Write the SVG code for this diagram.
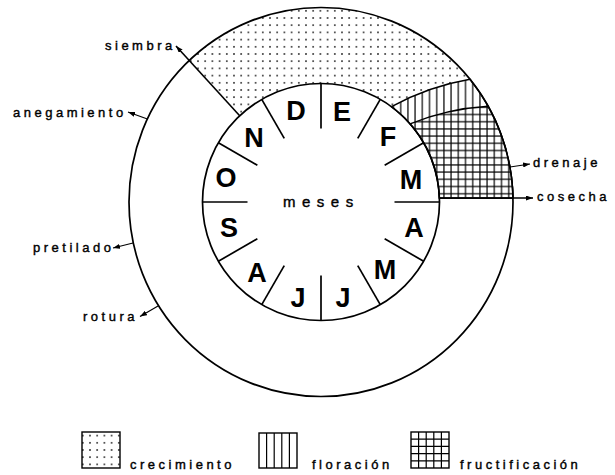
<svg xmlns="http://www.w3.org/2000/svg" width="615" height="475" viewBox="0 0 615 475">
<style>
.ln{fill:none;stroke:#000;stroke-width:1.7}
.hl{stroke:#000;stroke-width:1.4}
.lbl{font-family:"Liberation Sans",Arial,sans-serif;font-size:13px;letter-spacing:3.5px;fill:#000;stroke:#000;stroke-width:0.4}
.mo{font-family:"Liberation Sans",Arial,sans-serif;font-weight:bold;font-size:27px;text-anchor:middle;fill:#000}
.ar{fill:none;stroke:#000;stroke-width:1.2;marker-end:url(#ah)}
</style>
<defs>
<marker id="ah" markerUnits="userSpaceOnUse" markerWidth="7" markerHeight="5" refX="7" refY="2.5" orient="auto"><path d="M0,0 L7,2.5 L0,5 Z" fill="#000"/></marker>
<pattern id="dots" patternUnits="userSpaceOnUse" width="7.2" height="7.2" x="0" y="0"><rect width="7.2" height="7.2" fill="#fff"/><circle cx="3.6" cy="3.6" r="0.8" fill="#000"/></pattern>
<pattern id="vl" patternUnits="userSpaceOnUse" width="7.2" height="10" x="397.1" y="0"><rect width="7.2" height="10" fill="#fff"/><line x1="3.6" y1="0" x2="3.6" y2="10" stroke="#000" stroke-width="1.2"/></pattern>
<pattern id="grid" patternUnits="userSpaceOnUse" width="7.2" height="7.2" x="397.1" y="118.1"><rect width="7.2" height="7.2" fill="#fff"/><line x1="3.6" y1="0" x2="3.6" y2="7.2" stroke="#000" stroke-width="1.2"/><line x1="0" y1="3.6" x2="7.2" y2="3.6" stroke="#000" stroke-width="1.2"/></pattern>
</defs>
<rect width="615" height="475" fill="#fff"/>

<g id="crecimiento-band">
<path d="M239.7 115.8 L189.3 60.4 A192 194.5 0 0 1 470 79.3 A250 250 0 0 0 391.5 106.7 A118.5 118.5 0 0 0 239.7 115.8 Z" fill="url(#dots)"/>
</g>
<g id="floracion-band">
<path d="M391.5 106.7 A250 250 0 0 1 470 79.3 A192 194.5 0 0 1 513 198 L439.4 198 A118.5 118.5 0 0 0 391.5 106.7 Z" fill="url(#vl)" class="hl"/>
</g>
<g id="fructificacion-band">
<path d="M410 123.8 A250 250 0 0 1 488.1 106.2 A192 194.5 0 0 1 513 198 L439.4 198 A118.5 118.5 0 0 0 410 123.8 Z" fill="url(#grid)" class="hl"/>
</g>

<g id="outer-ring">
<ellipse cx="321" cy="202" rx="192" ry="194.5" class="ln"/>
</g>
<g id="meses-wheel">
<circle cx="321" cy="202" r="118.5" class="ln"/>
<g class="ln">
<line x1="321" y1="83.5" x2="321" y2="128.5"/>
<line x1="321" y1="83.5" x2="321" y2="128.5" transform="rotate(30 321 202)"/>
<line x1="321" y1="83.5" x2="321" y2="128.5" transform="rotate(60 321 202)"/>
<line x1="321" y1="83.5" x2="321" y2="128.5" transform="rotate(90 321 202)"/>
<line x1="321" y1="83.5" x2="321" y2="128.5" transform="rotate(120 321 202)"/>
<line x1="321" y1="83.5" x2="321" y2="128.5" transform="rotate(150 321 202)"/>
<line x1="321" y1="83.5" x2="321" y2="128.5" transform="rotate(180 321 202)"/>
<line x1="321" y1="83.5" x2="321" y2="128.5" transform="rotate(210 321 202)"/>
<line x1="321" y1="83.5" x2="321" y2="128.5" transform="rotate(240 321 202)"/>
<line x1="321" y1="83.5" x2="321" y2="128.5" transform="rotate(270 321 202)"/>
<line x1="321" y1="83.5" x2="321" y2="128.5" transform="rotate(300 321 202)"/>
<line x1="321" y1="83.5" x2="321" y2="128.5" transform="rotate(330 321 202)"/>
</g>
<text class="mo" x="296" y="120">D</text>
<text class="mo" x="342" y="121">E</text>
<text class="mo" x="388" y="145.5">F</text>
<text class="mo" x="411" y="189">M</text>
<text class="mo" x="414" y="237">A</text>
<text class="mo" x="385" y="279">M</text>
<text class="mo" x="343" y="307">J</text>
<text class="mo" x="298" y="307">J</text>
<text class="mo" x="257" y="282">A</text>
<text class="mo" x="229" y="237">S</text>
<text class="mo" x="226" y="187">O</text>
<text class="mo" x="254" y="147">N</text>
<text class="lbl" x="283" y="207" style="font-size:15px;letter-spacing:6.5px">meses</text>
</g>

<g id="connectors">
<line x1="239.7" y1="115.8" x2="176" y2="46" class="ar" style="stroke-width:1.6"/>
<line x1="439.4" y1="198" x2="533" y2="198" class="ar" style="stroke-width:1.5"/>
<line x1="510" y1="167" x2="530" y2="164" class="ar"/>
<line x1="147.4" y1="119" x2="128" y2="112" class="ar"/>
<line x1="133" y1="243" x2="113" y2="248" class="ar"/>
<line x1="158" y1="306" x2="140" y2="316.5" class="ar"/>
</g>

<g id="labels">
<text class="lbl" x="105" y="50">siembra</text>
<text class="lbl" x="13" y="117">anegamiento</text>
<text class="lbl" x="33" y="252">pretilado</text>
<text class="lbl" x="83" y="321">rotura</text>
<text class="lbl" x="533" y="167">drenaje</text>
<text class="lbl" x="537" y="201">cosecha</text>
</g>

<g id="legend-crecimiento">
<rect x="82" y="432" width="38" height="36" fill="url(#dots)" class="hl"/>
<text class="lbl" x="130" y="469">crecimiento</text>
</g>
<g id="legend-floracion">
<rect x="259" y="433" width="38" height="35" fill="#fff" class="hl"/>
<path d="M266.6 433V468M274.2 433V468M281.8 433V468M289.4 433V468" stroke="#000" stroke-width="1.2"/>
<text class="lbl" x="312" y="469">floración</text>
</g>
<g id="legend-fructificacion">
<rect x="411" y="432" width="38" height="36" fill="#fff" class="hl"/>
<path d="M418.6 432V468M426.2 432V468M433.8 432V468M441.4 432V468M411 439.2H449M411 446.4H449M411 453.6H449M411 460.8H449" stroke="#000" stroke-width="1.2"/>
<text class="lbl" x="460" y="469">fructificación</text>
</g>
</svg>
